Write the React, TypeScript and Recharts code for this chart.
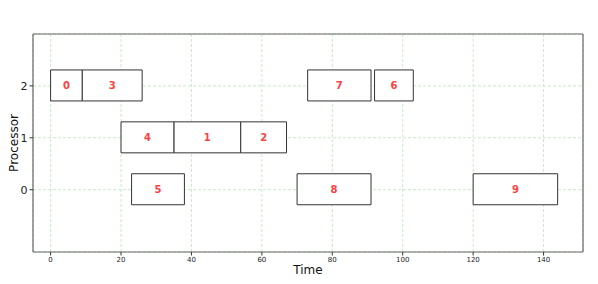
import React from "react";
import { Bar, BarChart, CartesianGrid, LabelList, XAxis, YAxis, Label, ReferenceLine } from "recharts";

const taskIds = [0, 1, 2, 3, 4, 5, 6, 7, 8, 9];
const processors = [2, 1, 1, 2, 1, 0, 2, 2, 0, 0];
const startTimes = [0, 35, 54, 9, 20, 23, 92, 73, 70, 120];
const endTimes = [9, 54, 67, 26, 35, 38, 103, 91, 91, 144];

const timeTicks = [0, 20, 40, 60, 80, 100, 120, 140];
const processorTicks = [0, 1, 2];

const timeDomain = [-5, 151.2];
const processorDomain = [-1.2, 3];

const data = taskIds.map((id, i) => ({
    id,
    proc: processors[i],
    span: [startTimes[i], endTimes[i]],
}));

const axisColor = "#666";

const App: React.FunctionComponent = () => {
    return (
        <div style={{ position: "absolute", left: 0, top: 0, fontFamily: "'DejaVu Sans', sans-serif" }}>
            <BarChart
                width={598}
                height={284}
                data={data}
                layout="vertical"
                margin={{ top: 34, right: 15, left: 0, bottom: 0 }}
            >
                <CartesianGrid stroke="#c8eac8" strokeDasharray="3 2" />
                <XAxis
                    type="number"
                    domain={timeDomain}
                    ticks={timeTicks}
                    height={32}
                    tick={{ fontSize: 7, fill: "#222" }}
                    tickLine={{ stroke: "#333" }}
                    tickSize={3.5}
                    axisLine={{ stroke: axisColor, strokeWidth: 1.2 }}
                    allowDataOverflow
                >
                    <Label value="Time" position="insideBottom" offset={10} style={{ fontSize: 12, fill: "#111" }} />
                </XAxis>
                <YAxis
                    type="number"
                    dataKey="proc"
                    domain={processorDomain}
                    ticks={processorTicks}
                    reversed
                    width={33}
                    tick={{ fontSize: 11, fill: "#222" }}
                    tickLine={{ stroke: "#333" }}
                    tickSize={3.5}
                    axisLine={{ stroke: axisColor, strokeWidth: 1.2 }}
                    allowDataOverflow
                >
                    <Label value="Processor" angle={-90} position="insideLeft" offset={14} style={{ fontSize: 12, fill: "#111", textAnchor: "middle" }} />
                </YAxis>
                <ReferenceLine y={processorDomain[1]} stroke={axisColor} strokeWidth={1.2} />
                <ReferenceLine x={timeDomain[1]} stroke={axisColor} strokeWidth={1.2} />
                <Bar dataKey="span" barSize={31} fill="#ffffff" stroke="#333" strokeWidth={1} isAnimationActive={false}>
                    <LabelList dataKey="id" position="center" style={{ fontSize: 10, fontWeight: "bold", fill: "#ff4040" }} />
                </Bar>
            </BarChart>
        </div>
    );
};

export default App;
